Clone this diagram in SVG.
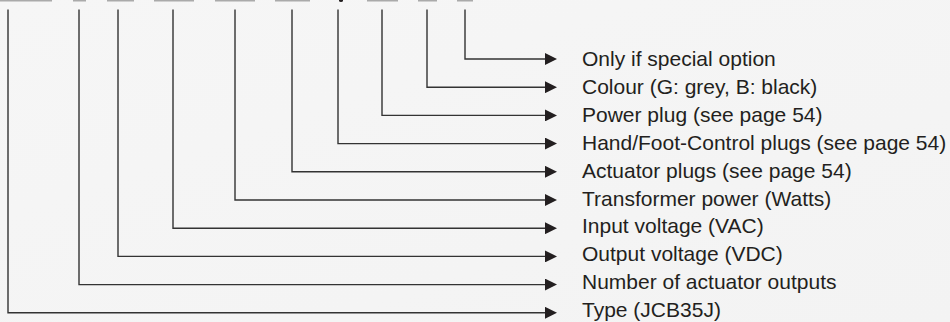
<svg xmlns="http://www.w3.org/2000/svg" width="950" height="322" viewBox="0 0 950 322">
<defs>
<linearGradient id="bg" x1="0" y1="0" x2="1" y2="1">
<stop offset="0" stop-color="#f6f6f6"/>
<stop offset="1" stop-color="#f3f3f3"/>
</linearGradient>
<marker id="arr" markerUnits="userSpaceOnUse" viewBox="0 0 12 12" markerWidth="12" markerHeight="12" refX="0" refY="6" orient="auto">
<path d="M0,0 L12,6 L0,12 z" fill="#231f20"/>
</marker>
<style>
.ln{fill:none;stroke:#333;stroke-width:1.4;marker-end:url(#arr)}
.lb{font-family:"Liberation Sans",Arial,sans-serif;font-size:21px;fill:#231f20}
.bar{fill:#aaaaaa}
</style>
</defs>
<rect width="950" height="322" fill="url(#bg)"/>
<g id="topbars">
<rect class="bar" x="0" y="0" width="52" height="1.5"/>
<rect class="bar" x="73" y="0" width="13" height="1.5"/>
<rect class="bar" x="107" y="0" width="27" height="1.5"/>
<rect class="bar" x="154" y="0" width="40" height="1.5"/>
<rect class="bar" x="215" y="0" width="40" height="1.5"/>
<rect class="bar" x="275" y="0" width="35" height="1.5"/>
<ellipse cx="341" cy="0.5" rx="2" ry="1.6" fill="#231f20"/>
<rect class="bar" x="367" y="0" width="31" height="1.5"/>
<rect class="bar" x="418" y="0" width="19" height="1.5"/>
<rect class="bar" x="457" y="0" width="16" height="1.5"/>
</g>
<g id="connectors">
<path class="ln" d="M465,9.5 V59 H545"/>
<path class="ln" d="M427,9.5 V87.2 H545"/>
<path class="ln" d="M382,9.5 V115.4 H545"/>
<path class="ln" d="M338,9.5 V143.6 H545"/>
<path class="ln" d="M292,9.5 V171.8 H545"/>
<path class="ln" d="M235,9.5 V200 H545"/>
<path class="ln" d="M173,9.5 V228.2 H545"/>
<path class="ln" d="M118,9.5 V256.4 H545"/>
<path class="ln" d="M79,9.5 V284.6 H545"/>
<path class="ln" d="M8,9.5 V312.8 H545"/>
</g>
<g id="n-special"><text class="lb" x="582" y="66">Only if special option</text></g>
<g id="n-colour"><text class="lb" x="582" y="93.9">Colour (G: grey, B: black)</text></g>
<g id="n-power-plug"><text class="lb" x="582" y="121.8">Power plug (see page 54)</text></g>
<g id="n-hand-foot"><text class="lb" x="582" y="149.7">Hand/Foot-Control plugs (see page 54)</text></g>
<g id="n-actuator-plugs"><text class="lb" x="582" y="177.6">Actuator plugs (see page 54)</text></g>
<g id="n-transformer"><text class="lb" x="582" y="205.5">Transformer power (Watts)</text></g>
<g id="n-input"><text class="lb" x="582" y="233.4">Input voltage (VAC)</text></g>
<g id="n-output"><text class="lb" x="582" y="261.3">Output voltage (VDC)</text></g>
<g id="n-number"><text class="lb" x="582" y="289.2">Number of actuator outputs</text></g>
<g id="n-type"><text class="lb" x="582" y="317">Type (JCB35J)</text></g>
</svg>
